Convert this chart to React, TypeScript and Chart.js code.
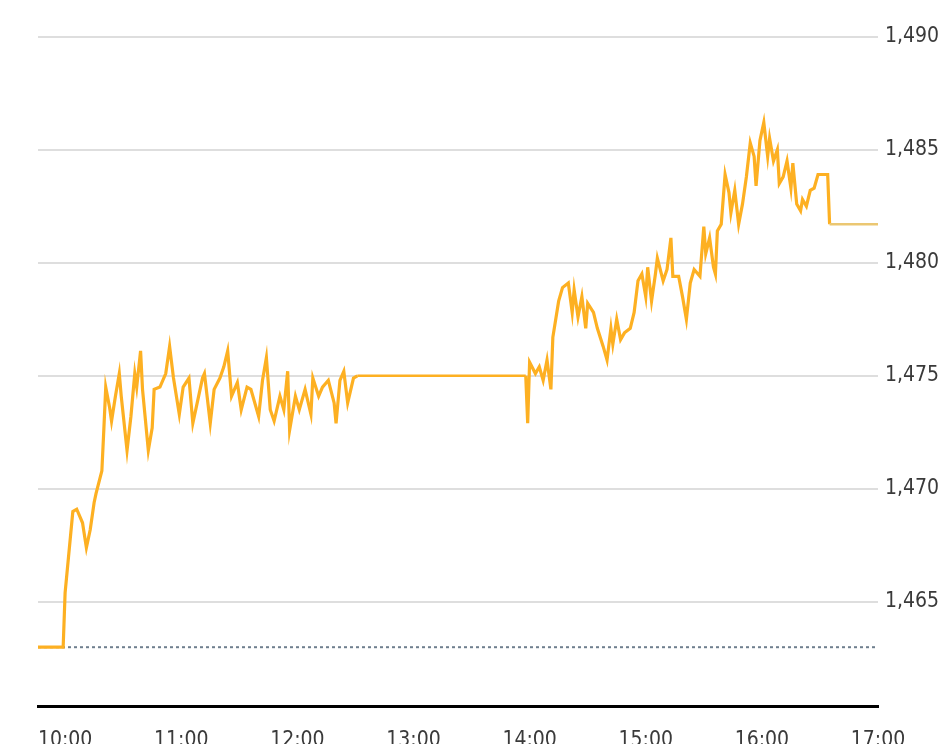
import React, { useEffect, useRef } from "react";
import { Chart, registerables } from "chart.js";

Chart.register(...registerables);

const times: string[] = [
  "09:46","09:59","10:00","10:04","10:06","10:09","10:11","10:13","10:15","10:16",
  "10:19","10:20","10:21","10:23","10:24","10:26","10:28","10:29","10:32","10:34",
  "10:36","10:37","10:39","10:40","10:43","10:45","10:46","10:49","10:52","10:54",
  "10:56","10:59","11:01","11:04","11:06","11:09","11:11","11:12","11:15","11:17",
  "11:20","11:22","11:24","11:26","11:29","11:31","11:34","11:36","11:40","11:42",
  "11:44","11:46","11:48","11:51","11:53","11:55","11:56","11:59","12:01","12:04",
  "12:07","12:08","12:11","12:13","12:16","12:19","12:20","12:22","12:24","12:26",
  "12:29","12:31","13:58","13:59","14:00","14:03","14:05","14:07","14:09","14:11",
  "14:12","14:15","14:17","14:20","14:22","14:23","14:25","14:27","14:29","14:30",
  "14:33","14:35","14:38","14:40","14:42","14:43","14:45","14:47","14:49","14:52",
  "14:54","14:56","14:58","15:00","15:01","15:03","15:05","15:06","15:09","15:11",
  "15:13","15:14","15:17","15:19","15:21","15:23","15:25","15:28","15:30","15:31",
  "15:33","15:35","15:36","15:37","15:39","15:41","15:43","15:44","15:46","15:48",
  "15:50","15:52","15:54","15:56","15:57","15:59","16:01","16:03","16:04","16:06",
  "16:08","16:09","16:11","16:13","16:15","16:16","16:18","16:20","16:21","16:23",
  "16:25","16:27","16:29","16:34","16:35","17:00",
];

const prices: number[] = [
  1463.0,1463.0,1465.4,1469.0,1469.1,1468.5,1467.4,1468.2,1469.4,1469.8,
  1470.8,1472.6,1474.5,1473.6,1473.0,1474.1,1475.1,1474.1,1471.7,1473.2,
  1475.1,1474.5,1476.1,1474.4,1471.7,1472.7,1474.4,1474.5,1475.1,1476.3,
  1474.9,1473.3,1474.5,1474.9,1472.9,1474.1,1474.9,1475.1,1472.9,1474.4,
  1474.9,1475.4,1476.1,1474.1,1474.7,1473.5,1474.5,1474.4,1473.2,1474.8,
  1475.8,1473.5,1473.0,1474.1,1473.5,1475.2,1472.6,1474.1,1473.5,1474.4,
  1473.3,1474.9,1474.1,1474.5,1474.8,1473.8,1472.9,1474.8,1475.2,1473.8,
  1474.9,1475.0,1475.0,1472.9,1475.6,1475.1,1475.4,1474.8,1475.7,1474.4,
  1476.7,1478.3,1478.9,1479.1,1477.8,1478.8,1477.6,1478.5,1477.1,1478.2,
  1477.8,1477.1,1476.3,1475.7,1477.1,1476.4,1477.5,1476.6,1476.9,1477.1,
  1477.8,1479.2,1479.5,1478.5,1479.8,1478.3,1479.5,1480.2,1479.2,1479.7,
  1481.1,1479.4,1479.4,1478.5,1477.5,1479.1,1479.7,1479.4,1481.6,1480.4,
  1481.1,1479.8,1479.5,1481.4,1481.7,1483.9,1483.1,1482.2,1483.2,1481.7,
  1482.6,1483.8,1485.3,1484.7,1483.4,1485.4,1486.2,1484.7,1485.5,1484.5,
  1485.0,1483.5,1483.8,1484.5,1483.3,1484.4,1482.6,1482.3,1482.8,1482.5,
  1483.2,1483.3,1483.9,1483.9,1481.7,1481.7,
];

const previousClose = 1463;
const xTickLabels: string[] = ["10:00","11:00","12:00","13:00","14:00","15:00","16:00","17:00"];
const yTickValues: number[] = [1465, 1470, 1475, 1480, 1485, 1490];
const xStart = "09:46";
const xEnd = "17:00";
const yMin = 1460.4;
const yMax = 1490.75;
const closingAuctionStart = "16:35";

const toMin = (t: string) => {
  const [h, m] = t.split(":").map(Number);
  return h * 60 + m;
};
const fmt = (v: number) => {
  const h = Math.floor(v / 60);
  const m = Math.round(v - h * 60);
  return `${h}:${m.toString().padStart(2, "0")}`;
};

export default function App() {
  const ref = useRef<HTMLCanvasElement | null>(null);

  useEffect(() => {
    document.body.style.margin = "0";
    const ctx = ref.current!;
    const lineData = times.map((t, i) => ({ x: toMin(t), y: prices[i] }));
    const prevData = [
      { x: toMin(xStart), y: previousClose },
      { x: toMin(xEnd), y: previousClose },
    ];
    const auction = toMin(closingAuctionStart);
    const font = { family: "'DejaVu Sans Condensed', 'DejaVu Sans', sans-serif", size: 21 };

    const chart = new Chart(ctx, {
      type: "line",
      data: {
        datasets: [
          {
            data: lineData,
            borderColor: "#fdb022",
            borderWidth: 3.2,
            pointRadius: 0,
            tension: 0,
            borderJoinStyle: "miter",
            segment: {
              borderColor: (c: any) => (c.p0.parsed.x >= auction ? "#ebc772" : undefined),
              borderWidth: (c: any) => (c.p0.parsed.x >= auction || (c.p0.parsed.x >= 751 && c.p1.parsed.x <= 838) ? 2.6 : undefined),
            },
          },
          {
            data: prevData,
            borderColor: "#6f7f8e",
            borderWidth: 2,
            borderDash: [3, 3],
            pointRadius: 0,
            tension: 0,
          },
        ],
      },
      options: {
        responsive: false,
        animation: false,
        layout: { padding: { left: 38, top: 0, right: 0, bottom: 0 } },
        plugins: { legend: { display: false }, tooltip: { enabled: false } },
        scales: {
          x: {
            type: "linear",
            min: toMin(xStart),
            max: toMin(xEnd),
            afterBuildTicks: (s: any) => {
              s.ticks = xTickLabels.map((t) => ({ value: toMin(t) }));
            },
            afterFit: (s: any) => {
              s.height = 38;
            },
            grid: { display: false, drawTicks: false },
            border: { display: true, color: "#000000", width: 3 },
            ticks: {
              color: "#3a3a3a",
              font,
              padding: 22,
              maxRotation: 0,
              autoSkip: false,
              callback: (v: any) => fmt(Number(v)),
            },
          },
          y: {
            type: "linear",
            position: "right",
            min: yMin,
            max: yMax,
            afterBuildTicks: (s: any) => {
              s.ticks = yTickValues.map((v) => ({ value: v }));
            },
            afterFit: (s: any) => {
              s.width = 67;
            },
            grid: { color: "#dedede", lineWidth: 2, drawTicks: false },
            border: { display: false },
            ticks: {
              color: "#3a3a3a",
              font,
              padding: 7,
              callback: (v: any) => Number(v).toLocaleString("en-US"),
            },
          },
        },
      },
    });
    return () => chart.destroy();
  }, []);

  return (
    <div style={{ position: "fixed", left: 0, top: 0, width: 945, height: 744, background: "#fff" }}>
      <canvas ref={ref} width={945} height={744} />
    </div>
  );
}
